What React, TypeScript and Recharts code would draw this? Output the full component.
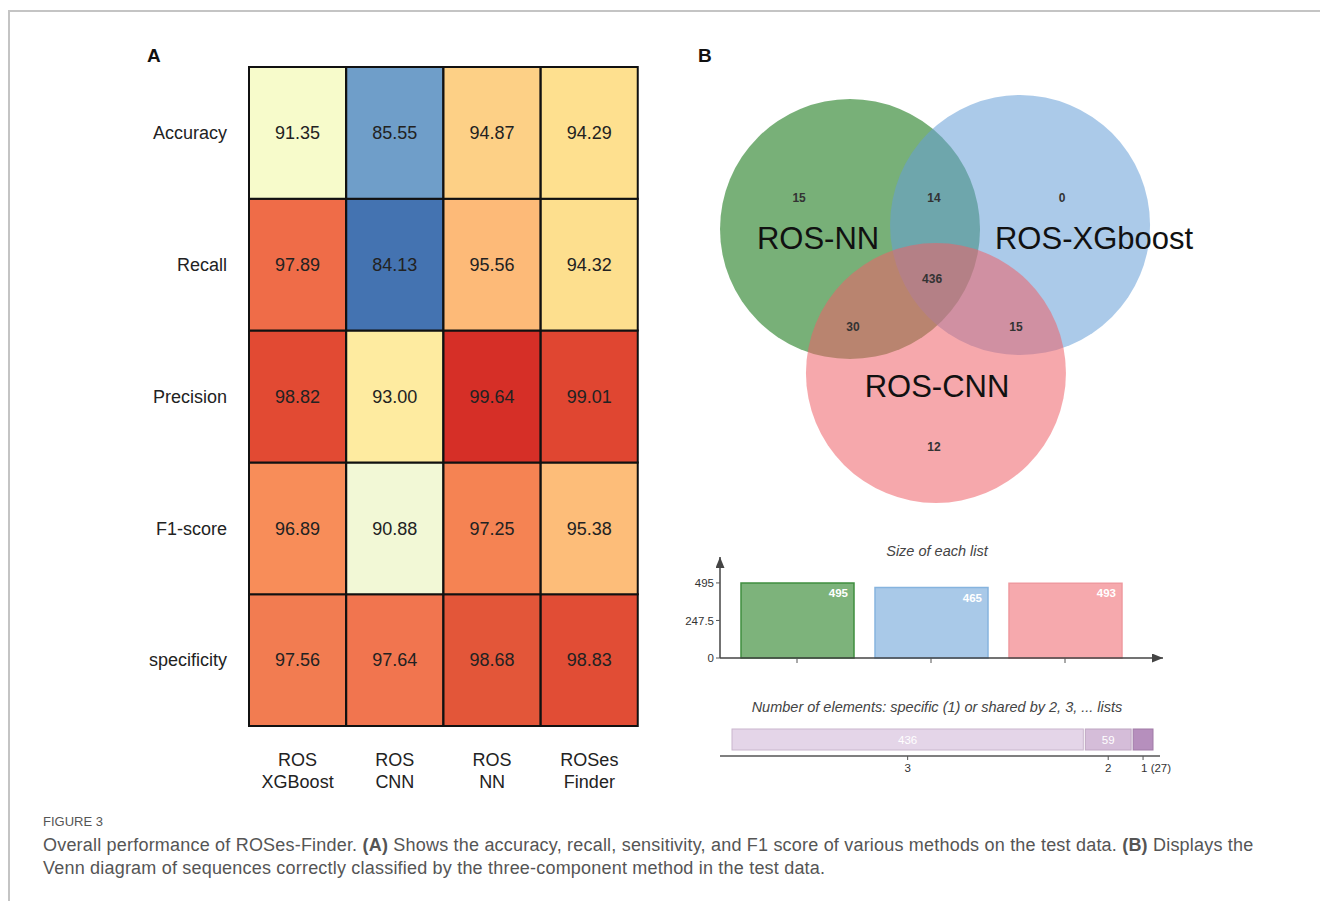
import React from 'react';
import { BarChart, Bar, XAxis, YAxis, Cell, LabelList, ScatterChart, Scatter } from 'recharts';

const FONT = '"Liberation Sans", Arial, Helvetica, sans-serif';

// ---------- Panel A: heatmap data ----------
const methods = ['ROS XGBoost', 'ROS CNN', 'ROS NN', 'ROSes Finder'];
const metrics = ['Accuracy', 'Recall', 'Precision', 'F1-score', 'specificity'];
const accuracy = [91.35, 85.55, 94.87, 94.29];
const recall = [97.89, 84.13, 95.56, 94.32];
const precision = [98.82, 93.0, 99.64, 99.01];
const f1score = [96.89, 90.88, 97.25, 95.38];
const specificity = [97.56, 97.64, 98.68, 98.83];
const accuracyColors = ['#f7fbcb', '#6f9ec9', '#fdd086', '#fee08f'];
const recallColors = ['#ef6c48', '#4473b1', '#fdba78', '#fddf8e'];
const precisionColors = ['#e24a33', '#feeba0', '#d62f27', '#e04631'];
const f1Colors = ['#f88d59', '#f2f8d6', '#f58353', '#fdbd79'];
const specificityColors = ['#f27c51', '#f1754f', '#e35639', '#e14d35'];

const metricValues = [accuracy, recall, precision, f1score, specificity];
const metricColors = [accuracyColors, recallColors, precisionColors, f1Colors, specificityColors];

const heatTable = methods.map((m, i) => {
  const row: any = { method: m };
  metrics.forEach((k, j) => {
    row[k] = 1;
    row[k + '_v'] = metricValues[j][i];
  });
  return row;
});

// ---------- Panel B: Venn data ----------
const vennSets = [
  { name: 'ROS-NN', x: -0.646, y: 0.361, color: 'rgb(10,111,10)' },
  { name: 'ROS-XGboost', x: 0.662, y: 0.392, color: 'rgb(102,159,215)' },
  { name: 'ROS-CNN', x: 0.015, y: -0.747, color: 'rgb(239,97,104)' },
];
const vennSetLabels = [
  { name: 'ROS-NN', x: -0.892, y: 0.292 },
  { name: 'ROS-XGboost', x: 1.231, y: 0.292 },
  { name: 'ROS-CNN', x: 0.023, y: -0.847 },
];
const vennRegions = [
  { count: 15, x: -1.038, y: 0.6 },
  { count: 14, x: 0.0, y: 0.6 },
  { count: 0, x: 0.985, y: 0.6 },
  { count: 436, x: -0.015, y: -0.023 },
  { count: 30, x: -0.623, y: -0.393 },
  { count: 15, x: 0.631, y: -0.393 },
  { count: 12, x: 0.0, y: -1.317 },
];
const VENN_W = 520;
const VENN_H = 430;
const VENN_XDOM = [-1.8, 2.2];
const VENN_YDOM = [-1.84, 1.47];
const VENN_RADIUS = 1.0;
const VENN_PX = VENN_W / (VENN_XDOM[1] - VENN_XDOM[0]);

// ---------- Size of each list ----------
const listNames = ['ROS-NN', 'ROS-XGboost', 'ROS-CNN'];
const listSizes = [495, 465, 493];
const listFills = ['#7db37b', '#a9c9e8', '#f6a9ad'];
const listStrokes = ['#3f8f3f', '#86b4de', '#ef9aa0'];
const listTicks = [0, 247.5, 495];
const sizeTable = listNames.map((n, i) => ({ name: n, size: listSizes[i] }));

// ---------- Number of elements ----------
const sharedBy = [3, 2, 1];
const sharedCounts = [436, 59, 27];
const sharedFills = ['#e4d5e8', '#d5bdd9', '#b68fbd'];
const sharedStrokes = ['#c9b6cd', '#bea5c2', '#a07aa6'];
const sharedTotal = sharedCounts.reduce((a, b) => a + b, 0);
const sharedCenters = sharedCounts.map((c, i) => sharedCounts.slice(0, i).reduce((a, b) => a + b, 0) + c / 2);
const sharedRow: any = { name: 'all' };
sharedBy.forEach((n, i) => (sharedRow['s' + n] = sharedCounts[i]));
const sharedTable = [sharedRow];

const MethodTick = (props: any) => {
  const { x, y, payload } = props;
  const parts = String(payload.value).split(' ');
  return (
    <text x={x} y={y} textAnchor="middle" fill="#222" fontSize={18} fontFamily={FONT}>
      <tspan x={x} dy={32}>{parts[0]}</tspan>
      <tspan x={x} dy={22}>{parts[1]}</tspan>
    </text>
  );
};

const SharedTick = (props: any) => {
  const { x, y, payload } = props;
  const idx = sharedCenters.findIndex((c) => Math.abs(c - payload.value) < 1e-6);
  if (idx < 0) return null;
  const n = sharedBy[idx];
  const c = sharedCounts[idx];
  const small = c < 30;
  return (
    <text x={small ? x - 2 : x} y={y} dy={10} textAnchor={small ? 'start' : 'middle'} fill="#333" fontSize={11.5} fontFamily={FONT}>
      {small ? `${n} (${c})` : `${n}`}
    </text>
  );
};

const SegmentShape = (fill: string, stroke: string) => (props: any) => {
  const { x, y, width, height } = props;
  return <rect x={x + 1} y={y} width={Math.max(0, width - 2)} height={height} fill={fill} stroke={stroke} strokeWidth={1} />;
};

export default function App() {
  const reversedMetrics = [...metrics].reverse();
  return (
    <div style={{ position: 'absolute', left: 0, top: 0, width: 1320, height: 901, background: '#fff', fontFamily: FONT, overflow: 'hidden' }}>
      <svg width={0} height={0} style={{ position: 'absolute' }}>
        <defs>
          <marker id="axisArrow" markerUnits="userSpaceOnUse" markerWidth={11} markerHeight={9} viewBox="0 0 11 9" refX={11} refY={4.5} orient="auto-start-reverse">
            <path d="M0,0 L11,4.5 L0,9 z" fill="#444" />
          </marker>
        </defs>
      </svg>

      {/* frame */}
      <div style={{ position: 'absolute', left: 8, top: 10, width: 1320, height: 900, borderLeft: '2px solid #c4c4c4', borderTop: '2px solid #c4c4c4' }} />

      <div style={{ position: 'absolute', left: 147, top: 45, fontSize: 19, fontWeight: 'bold', color: '#111' }}>A</div>
      <div style={{ position: 'absolute', left: 698, top: 45, fontSize: 19, fontWeight: 'bold', color: '#111' }}>B</div>

      {/* Panel A heatmap */}
      <div style={{ position: 'absolute', left: 0, top: 0 }}>
        <BarChart width={660} height={800} data={heatTable} margin={{ top: 67, right: 22, left: 129, bottom: 4 }} barCategoryGap={0}>
          <XAxis dataKey="method" type="category" axisLine={false} tickLine={false} height={70} tick={<MethodTick />} interval={0} />
          <YAxis
            type="number"
            domain={[0, 5]}
            ticks={[0.5, 1.5, 2.5, 3.5, 4.5]}
            tickFormatter={(v: number) => metrics[4 - Math.floor(v)]}
            axisLine={false}
            tickLine={false}
            tickSize={0}
            tickMargin={22}
            width={120}
            interval={0}
            tick={{ fill: '#222', fontSize: 18 }}
          />
          {reversedMetrics.map((m) => {
            const j = metrics.indexOf(m);
            return (
              <Bar key={m} dataKey={m} stackId="h" stroke="#111" strokeWidth={2} isAnimationActive={false}>
                {heatTable.map((_, i) => (
                  <Cell key={i} fill={metricColors[j][i]} />
                ))}
                <LabelList dataKey={m + '_v'} position="center" formatter={(v: any) => Number(v).toFixed(2)} fill="#222" fontSize={18} />
              </Bar>
            );
          })}
        </BarChart>
      </div>

      {/* Panel B Venn */}
      <div style={{ position: 'absolute', left: 700, top: 85 }}>
        <ScatterChart width={VENN_W} height={VENN_H} margin={{ top: 0, right: 0, bottom: 0, left: 0 }}>
          <XAxis type="number" dataKey="x" domain={VENN_XDOM} hide allowDataOverflow />
          <YAxis type="number" dataKey="y" domain={VENN_YDOM} hide allowDataOverflow />
          <Scatter
            data={vennSets}
            isAnimationActive={false}
            shape={(p: any) => <circle cx={p.cx} cy={p.cy} r={VENN_RADIUS * VENN_PX} fill={p.payload.color} fillOpacity={0.55} />}
          />
          <Scatter
            data={vennSetLabels}
            isAnimationActive={false}
            shape={(p: any) => (
              <text x={p.cx} y={p.cy} textAnchor="middle" dominantBaseline="central" fontSize={31} fill="#111" fontFamily={FONT}>
                {p.payload.name}
              </text>
            )}
          />
          <Scatter
            data={vennRegions}
            isAnimationActive={false}
            shape={(p: any) => (
              <text x={p.cx} y={p.cy} textAnchor="middle" dominantBaseline="central" fontSize={12} fontWeight="bold" fill="#333" fontFamily={FONT}>
                {p.payload.count}
              </text>
            )}
          />
        </ScatterChart>
      </div>

      {/* Size of each list */}
      <div style={{ position: 'absolute', left: 837, top: 543, width: 200, textAlign: 'center', fontSize: 14.5, fontStyle: 'italic', color: '#444', lineHeight: '17px' }}>
        Size of each list
      </div>
      <div style={{ position: 'absolute', left: 660, top: 530 }}>
        <BarChart width={540} height={150} data={sizeTable} margin={{ top: 27, right: 37, left: 0, bottom: 10 }}>
          <XAxis
            dataKey="name"
            type="category"
            padding={{ left: 10, right: 31 }}
            height={12}
            tickSize={5}
            interval={0}
            tickFormatter={() => ''}
            tickLine={{ stroke: '#555' }}
            axisLine={{ stroke: '#444', strokeWidth: 1.5, markerEnd: 'url(#axisArrow)' }}
          />
          <YAxis
            type="number"
            domain={[0, 666]}
            ticks={listTicks}
            interval={0}
            width={60}
            tickSize={4}
            tick={{ fill: '#333', fontSize: 11.5 }}
            tickLine={{ stroke: '#555' }}
            axisLine={{ stroke: '#444', strokeWidth: 1.5, markerStart: 'url(#axisArrow)' }}
          />
          <Bar dataKey="size" barSize={113} strokeWidth={1.5} isAnimationActive={false}>
            {sizeTable.map((_, i) => (
              <Cell key={i} fill={listFills[i]} stroke={listStrokes[i]} />
            ))}
            <LabelList dataKey="size" position="insideTopRight" offset={6} fill="#fff" fontSize={11.5} fontWeight="bold" />
          </Bar>
        </BarChart>
      </div>

      {/* Number of elements */}
      <div style={{ position: 'absolute', left: 687, top: 699, width: 500, textAlign: 'center', fontSize: 14.5, fontStyle: 'italic', color: '#444', lineHeight: '17px' }}>
        Number of elements: specific (1) or shared by 2, 3, ... lists
      </div>
      <div style={{ position: 'absolute', left: 660, top: 715 }}>
        <BarChart width={520} height={70} data={sharedTable} layout="vertical" margin={{ top: 8, right: 20, left: 60, bottom: 9 }}>
          <YAxis type="category" dataKey="name" hide />
          <XAxis
            type="number"
            domain={[0, sharedTotal]}
            ticks={sharedCenters}
            interval={0}
            padding={{ left: 11, right: 6 }}
            height={20}
            tickSize={4}
            tickLine={{ stroke: '#555' }}
            axisLine={{ stroke: '#555', strokeWidth: 1.5 }}
            tick={<SharedTick />}
          />
          {sharedBy.map((n, i) => (
            <Bar key={n} dataKey={'s' + n} stackId="e" barSize={21} isAnimationActive={false} shape={SegmentShape(sharedFills[i], sharedStrokes[i])}>
              <LabelList
                dataKey={'s' + n}
                position="center"
                formatter={(v: any) => (Number(v) >= 30 ? String(v) : '')}
                fill="#fff"
                fontSize={11.5}
              />
            </Bar>
          ))}
        </BarChart>
      </div>

      {/* Caption */}
      <div style={{ position: 'absolute', left: 43, top: 814, fontSize: 13, color: '#555', lineHeight: '16px' }}>FIGURE 3</div>
      <div style={{ position: 'absolute', left: 43, top: 834, fontSize: 18, letterSpacing: 0.2, color: '#555', lineHeight: '22px', whiteSpace: 'nowrap' }}>
        Overall performance of ROSes-Finder. <b>(A)</b> Shows the accuracy, recall, sensitivity, and F1 score of various methods on the test data. <b>(B)</b> Displays the
      </div>
      <div style={{ position: 'absolute', left: 43, top: 857, fontSize: 18, letterSpacing: 0.2, color: '#555', lineHeight: '22px', whiteSpace: 'nowrap' }}>
        Venn diagram of sequences correctly classified by the three-component method in the test data.
      </div>
    </div>
  );
}
